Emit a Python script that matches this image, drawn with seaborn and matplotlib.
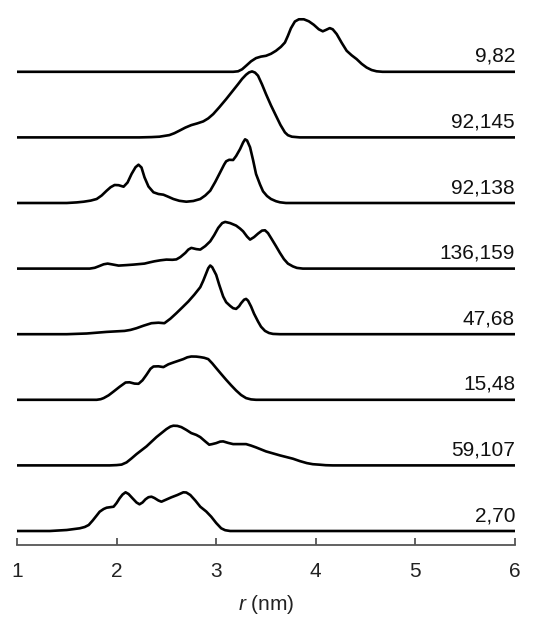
import matplotlib
matplotlib.use("Agg")
import matplotlib.pyplot as plt
import seaborn as sns
import pandas as pd

# Distance distributions P(r) for each labelled spin pair, top to bottom.
# Each series: r values (nm) and amplitude (arbitrary units, flat at 0 elsewhere).
labels = ["9,82", "92,145", "92,138", "136,159", "47,68", "15,48", "59,107", "2,70"]

r_9_82 = [1.00, 3.17, 3.22, 3.26, 3.30, 3.35, 3.40, 3.45, 3.50, 3.55, 3.60, 3.65,
          3.69, 3.72, 3.75, 3.79, 3.83, 3.88, 3.93, 3.98, 4.03, 4.07, 4.10, 4.14,
          4.17, 4.21, 4.26, 4.31, 4.36, 4.41, 4.46, 4.51, 4.56, 4.61, 4.67, 6.00]
p_9_82 = [0.0, 0.0, 0.5, 2.5, 6.0, 10.5, 13.7, 15.2, 16.0, 18.0, 21.0, 25.0,
          29.3, 36.0, 43.5, 50.3, 52.5, 52.5, 50.5, 47.0, 42.5, 40.5, 41.8, 43.7,
          42.5, 37.7, 29.0, 21.0, 16.5, 12.7, 8.0, 4.3, 1.8, 0.5, 0.0, 0.0]

r_92_145 = [1.00, 2.23, 2.35, 2.43, 2.53, 2.58, 2.63, 2.69, 2.75, 2.81, 2.87, 2.92,
            2.97, 3.03, 3.10, 3.16, 3.22, 3.26, 3.30, 3.33, 3.36, 3.39, 3.42, 3.46,
            3.50, 3.55, 3.60, 3.645, 3.69, 3.72, 3.76, 3.84, 6.00]
p_92_145 = [0.0, 0.0, 0.3, 0.7, 2.3, 4.2, 6.7, 9.8, 12.3, 14.0, 16.0, 19.0,
            23.3, 30.0, 38.3, 45.8, 53.3, 58.5, 62.7, 65.0, 66.0, 64.8, 61.7, 53.0,
            43.3, 32.0, 21.7, 12.5, 5.0, 2.2, 0.7, 0.0, 0.0]

r_92_138 = [1.00, 1.50, 1.60, 1.67, 1.74, 1.80, 1.85, 1.90, 1.94, 1.98, 2.02, 2.07,
            2.11, 2.15, 2.19, 2.22, 2.25, 2.28, 2.32, 2.37, 2.42, 2.47, 2.52, 2.57,
            2.63, 2.70, 2.77, 2.84, 2.89, 2.94, 2.99, 3.04, 3.08, 3.10, 3.13, 3.17,
            3.20, 3.24, 3.27, 3.29, 3.31, 3.34, 3.37, 3.40, 3.44, 3.47, 3.51, 3.55,
            3.60, 3.64, 3.70, 6.00]
p_92_138 = [0.0, 0.0, 0.6, 1.3, 2.4, 4.0, 7.5, 12.3, 15.8, 18.0, 17.8, 16.3,
            20.5, 29.0, 35.8, 38.3, 35.5, 25.7, 16.5, 10.7, 9.0, 8.3, 6.2, 4.0,
            2.2, 1.3, 2.0, 4.0, 7.5, 12.3, 21.0, 30.7, 38.5, 41.7, 43.2, 43.0,
            47.0, 54.0, 60.5, 63.7, 62.5, 55.7, 43.0, 29.0, 18.5, 11.7, 7.0, 4.0,
            1.8, 0.7, 0.0, 0.0]

r_136_159 = [1.00, 1.73, 1.78, 1.82, 1.87, 1.91, 1.95, 2.02, 2.10, 2.17, 2.28, 2.33,
             2.38, 2.44, 2.50, 2.56, 2.60, 2.64, 2.69, 2.72, 2.75, 2.80, 2.84, 2.89,
             2.94, 2.98, 3.02, 3.06, 3.09, 3.14, 3.20, 3.24, 3.27, 3.31, 3.34, 3.38,
             3.42, 3.46, 3.49, 3.52, 3.55, 3.60, 3.64, 3.68, 3.72, 3.77, 3.81, 3.87,
             6.00]
p_136_159 = [0.0, 0.0, 0.8, 2.3, 4.3, 5.0, 4.3, 3.0, 3.5, 4.0, 5.0, 6.2,
             7.3, 8.3, 9.0, 8.8, 9.2, 11.5, 15.7, 19.0, 20.7, 19.5, 19.0, 22.5,
             27.3, 33.5, 40.7, 45.5, 46.7, 45.5, 43.0, 40.0, 37.3, 32.0, 29.0, 31.5,
             35.0, 38.0, 38.3, 35.5, 30.7, 22.5, 15.7, 9.5, 5.0, 2.2, 0.7, 0.0,
             0.0]

r_47_68 = [1.00, 1.50, 1.70, 1.90, 2.08, 2.14, 2.20, 2.27, 2.35, 2.42, 2.48, 2.54,
           2.60, 2.66, 2.72, 2.78, 2.84, 2.87, 2.90, 2.92, 2.94, 2.96, 3.00, 3.03,
           3.07, 3.10, 3.14, 3.17, 3.20, 3.23, 3.25, 3.28, 3.30, 3.32, 3.35, 3.38,
           3.42, 3.45, 3.49, 3.53, 3.57, 3.64, 6.00]
p_47_68 = [0.0, 0.0, 0.7, 2.3, 3.3, 4.3, 6.0, 8.5, 11.0, 11.5, 11.0, 15.5,
           21.0, 26.8, 32.7, 39.5, 47.0, 53.5, 61.0, 66.0, 68.7, 67.0, 59.3, 49.5,
           37.7, 32.0, 28.3, 26.0, 25.3, 28.0, 31.0, 34.5, 35.3, 33.5, 27.7, 20.5,
           12.7, 7.5, 3.3, 1.2, 0.3, 0.0, 0.0]

r_15_48 = [1.00, 1.80, 1.84, 1.87, 1.92, 1.97, 2.03, 2.09, 2.13, 2.18, 2.22, 2.26,
           2.30, 2.34, 2.37, 2.42, 2.47, 2.52, 2.57, 2.62, 2.67, 2.71, 2.75, 2.80,
           2.84, 2.88, 2.92, 2.96, 3.00, 3.05, 3.10, 3.15, 3.20, 3.25, 3.30, 3.35,
           3.40, 6.00]
p_15_48 = [0.0, 0.0, 0.6, 1.7, 4.5, 8.3, 13.0, 17.3, 17.5, 16.2, 16.0, 19.5,
           25.0, 31.0, 33.3, 33.5, 32.7, 35.5, 37.3, 39.0, 40.7, 42.5, 43.3, 43.2,
           42.7, 42.0, 40.7, 36.5, 31.7, 25.8, 20.0, 14.5, 9.3, 4.8, 1.7, 0.4,
           0.0, 0.0]

r_59_107 = [1.00, 1.93, 2.00, 2.05, 2.10, 2.15, 2.20, 2.30, 2.40, 2.50, 2.54, 2.57,
            2.61, 2.65, 2.70, 2.75, 2.80, 2.84, 2.89, 2.93, 2.96, 3.00, 3.04, 3.07,
            3.12, 3.17, 3.24, 3.30, 3.35, 3.40, 3.50, 3.64, 3.77, 3.84, 3.91, 3.97,
            4.04, 4.10, 4.17, 6.00]
p_59_107 = [0.0, 0.0, 0.3, 0.8, 3.0, 7.0, 11.3, 19.0, 28.3, 36.3, 38.8, 39.7,
            39.5, 38.3, 35.5, 32.3, 30.5, 28.3, 24.0, 20.7, 21.3, 22.3, 23.8, 24.0,
            22.5, 21.3, 21.3, 21.3, 19.8, 18.0, 14.0, 10.0, 6.7, 4.3, 2.3, 1.2,
            0.7, 0.2, 0.0, 0.0]

r_2_70 = [1.00, 1.33, 1.50, 1.63, 1.68, 1.72, 1.76, 1.80, 1.83, 1.87, 1.90, 1.97,
          2.00, 2.03, 2.06, 2.09, 2.12, 2.16, 2.20, 2.23, 2.26, 2.29, 2.32, 2.35,
          2.38, 2.42, 2.45, 2.50, 2.55, 2.61, 2.67, 2.70, 2.74, 2.79, 2.84, 2.90,
          2.95, 3.00, 3.05, 3.09, 3.14, 6.00]
p_2_70 = [0.0, 0.0, 1.0, 2.7, 4.0, 6.0, 10.5, 15.5, 19.3, 22.0, 23.3, 24.3,
          28.0, 32.7, 36.5, 38.7, 37.0, 32.7, 28.5, 26.7, 28.5, 31.7, 33.8, 34.3,
          33.0, 30.5, 29.3, 31.5, 33.7, 36.0, 38.7, 38.5, 36.0, 30.5, 24.3, 19.5,
          14.3, 8.0, 2.7, 0.8, 0.0, 0.0]

series_r = [r_9_82, r_92_145, r_92_138, r_136_159, r_47_68, r_15_48, r_59_107, r_2_70]
series_p = [p_9_82, p_92_145, p_92_138, p_136_159, p_47_68, p_15_48, p_59_107, p_2_70]

x_ticks = [1, 2, 3, 4, 5, 6]

# Vertical stacking step between neighbouring traces
STEP = 65.6

frames = []
for i, (lab, r, p) in enumerate(zip(labels, series_r, series_p)):
    offset = (len(labels) - 1 - i) * STEP
    frames.append(pd.DataFrame({"r": r, "y": [v + offset for v in p], "pair": lab,
                                "offset": offset}))
df = pd.concat(frames, ignore_index=True)

sns.set_theme(style="white")
plt.rcParams["font.family"] = ["Liberation Sans", "DejaVu Sans"]
plt.rcParams["mathtext.fontset"] = "custom"
plt.rcParams["mathtext.it"] = "Liberation Sans:italic"
plt.rcParams["mathtext.rm"] = "Liberation Sans"

W, H = 545, 618
fig = plt.figure(figsize=(W / 100, H / 100), dpi=100)
ax = fig.add_axes([17 / W, (H - 545) / H, 498 / W, 545 / H])

sns.lineplot(data=df, x="r", y="y", units="pair", estimator=None, sort=False,
             color="black", linewidth=1.9, ax=ax, legend=False)
for ln in ax.get_lines():
    ln.set_solid_joinstyle("round")
    ln.set_solid_capstyle("butt")

offsets = df.drop_duplicates("pair").set_index("pair")["offset"]
for lab in labels:
    ax.text(6.0, offsets[lab] + 6, lab, ha="right", va="bottom", fontsize=15,
            color="#111111")

ax.set_xlim(1, 6)
ax.set_ylim(-14, 531)
ax.set_xticks(x_ticks)
ax.set_xticklabels([str(t) for t in x_ticks])
ax.set_yticks([])
ax.set_ylabel("")
ax.set_xlabel("$r$ (nm)", fontsize=15, color="#222222", labelpad=9)

for side in ["top", "right", "left"]:
    ax.spines[side].set_visible(False)
ax.spines["bottom"].set_color("#555555")
ax.spines["bottom"].set_linewidth(1.3)
ax.tick_params(axis="x", direction="in", length=5, width=1.3, color="#555555",
               labelsize=15, labelcolor="#222222", pad=12, bottom=True)

fig.savefig("out.png", dpi=100)
